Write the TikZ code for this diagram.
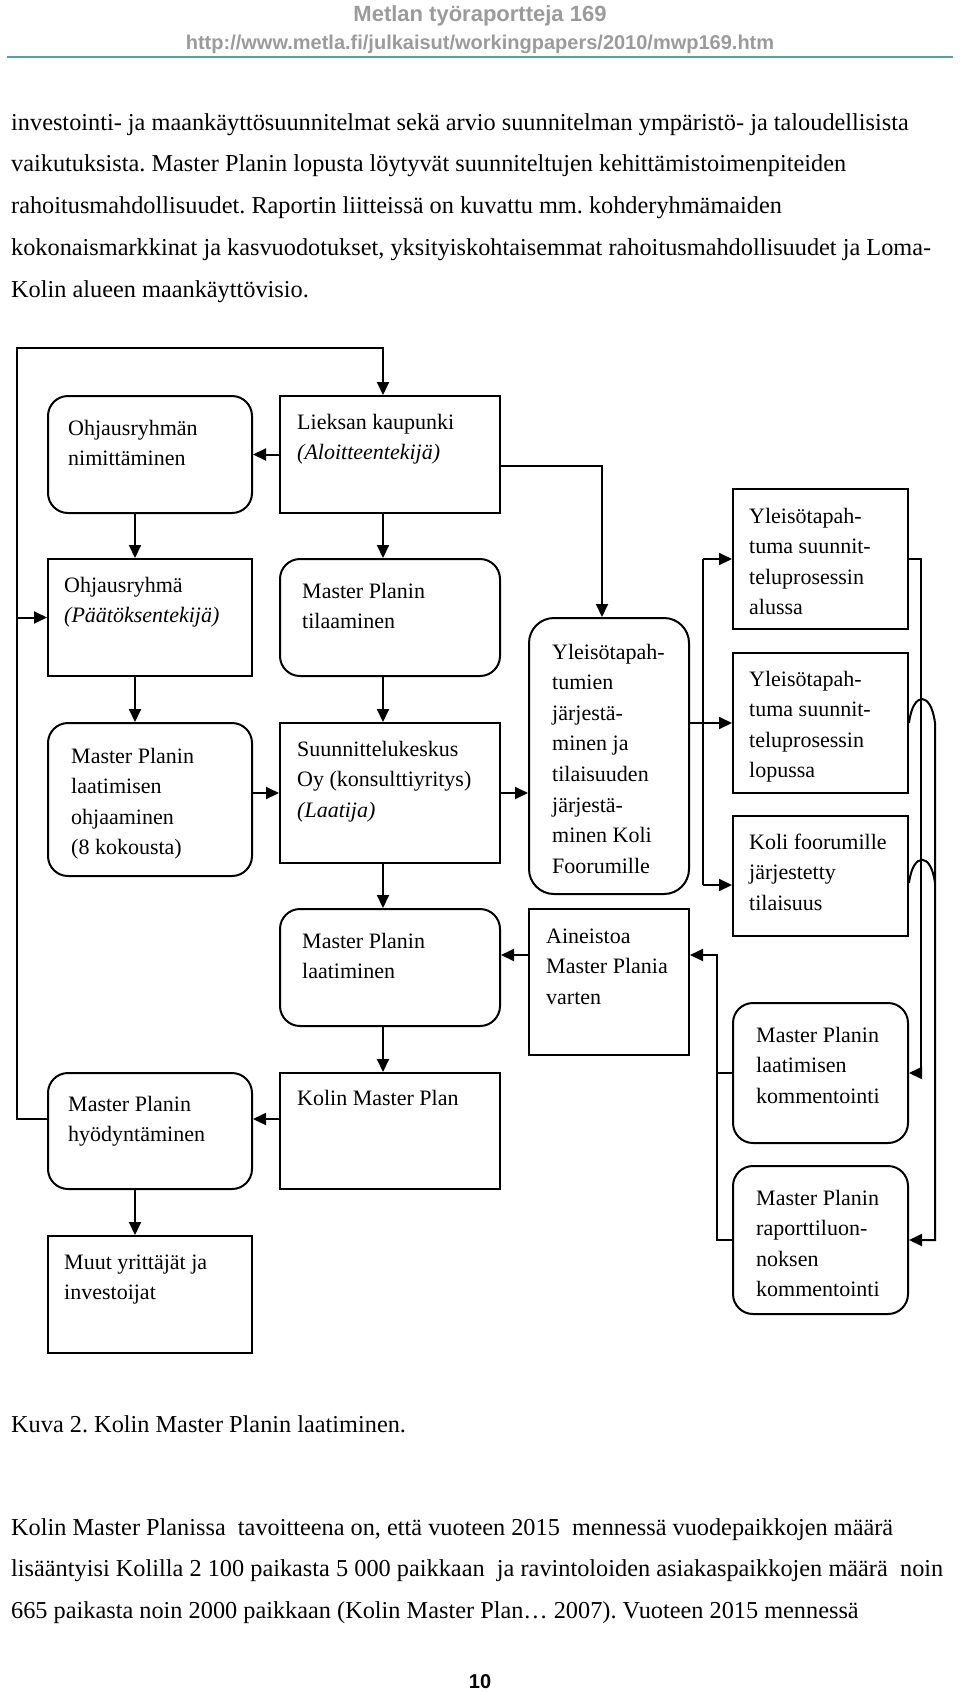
\documentclass[tikz,border=0pt]{standalone}
\usepackage{fontspec}
\setmainfont{Liberation Serif}
\newfontfamily\headfont{Liberation Sans}
\usetikzlibrary{arrows.meta}
\definecolor{headgray}{RGB}{155,155,155}
\definecolor{ruleteal}{RGB}{90,160,160}
\frenchspacing
\def\boxtext(#1)(#2,#3)#4{\node[txt] (#1-t) at ([shift={(#2,#3)}]#1.north west) {\parbox[t]{210pt}{\raggedright #4}};}

\begin{document}
\begin{tikzpicture}[x=1pt,y=-1pt,
	box/.style={draw, line width=2pt, anchor=north west, inner sep=0pt},
	rbox/.style={box, rounded corners=20pt},
	txt/.style={anchor=base west, inner sep=0pt, font=\fontsize{22}{30.6}\selectfont},
	body/.style={anchor=base west, inner sep=0pt, font=\fontsize{24.3}{41.75}\selectfont},
	arr/.style={line width=2pt, -{Triangle[length=13pt,width=12pt]}},
	con/.style={line width=2pt}]
			%%%%% START %%%%%
			
			\fill[white] (0,0) rectangle (960,1692);
			\useasboundingbox (0,0) rectangle (960,1692);
			
			% page head
			\node[anchor=base, inner sep=0pt, text=headgray, font=\headfont\bfseries\fontsize{22}{26}\selectfont] (head) at (480,21) {Metlan työraportteja 169};
			\node[anchor=base, inner sep=0pt, text=headgray, font=\headfont\bfseries\fontsize{20}{24}\selectfont] (url) at (480,49) {http://www.metla.fi/julkaisut/workingpapers/2010/mwp169.htm};
			\draw[ruleteal, line width=2pt] (7,57) -- (953,57);
			
			\node[body] (para1) at (11,130) {\parbox[t]{950pt}{investointi- ja maankäyttösuunnitelmat sekä arvio suunnitelman ympäristö- ja taloudellisista\\
			vaikutuksista. Master Planin lopusta löytyvät suunniteltujen kehittämistoimenpiteiden\\
			rahoitusmahdollisuudet. Raportin liitteissä on kuvattu mm. kohderyhmämaiden\\
			kokonaismarkkinat ja kasvuodotukset, yksityiskohtaisemmat rahoitusmahdollisuudet ja Loma-\\
			Kolin alueen maankäyttövisio.}};
			
			% left column
			\node[rbox, minimum width=204pt, minimum height=117pt] (ohjnim) at (47,395) {};
			\node[box, minimum width=204pt, minimum height=117pt] (ohjryhma) at (47,558) {};
			\node[rbox, minimum width=204pt, minimum height=153pt] (ohjaam) at (47,722) {};
			\node[rbox, minimum width=204pt, minimum height=116pt] (hyod) at (47,1072) {};
			\node[box, minimum width=204pt, minimum height=117pt] (muut) at (47,1235) {};
			
			\boxtext(ohjnim)(21,40){Ohjausryhmän\\nimittäminen}
			\boxtext(ohjryhma)(17,34){Ohjausryhmä\\\textit{(Päätöksentekijä)}}
			\boxtext(ohjaam)(24,41){Master Planin\\laatimisen\\ohjaaminen\\(8 kokousta)}
			\boxtext(hyod)(21,39){Master Planin\\hyödyntäminen}
			\boxtext(muut)(17,34){Muut yrittäjät ja\\investoijat}
			
			% middle column
			\node[box, minimum width=220pt, minimum height=117pt] (lieksa) at (279,395) {};
			\node[rbox, minimum width=220pt, minimum height=117pt] (tilaus) at (279,558) {};
			\node[box, minimum width=220pt, minimum height=140pt] (suunn) at (279,722) {};
			\node[rbox, minimum width=220pt, minimum height=117pt] (laatim) at (279,908) {};
			\node[box, minimum width=220pt, minimum height=116pt] (kolin) at (279,1072) {};
			
			\boxtext(lieksa)(18,34){Lieksan kaupunki\\\textit{(Aloitteentekijä)}}
			\boxtext(tilaus)(23,40){Master Planin\\tilaaminen}
			\boxtext(suunn)(18,34){Suunnittelukeskus\\Oy (konsulttiyritys)\\\textit{(Laatija)}}
			\boxtext(laatim)(23,40){Master Planin\\laatiminen}
			\boxtext(kolin)(18,33){Kolin Master Plan}
			
			% third column
			\node[box, rounded corners=25pt, minimum width=160pt, minimum height=276pt] (yleis) at (528,617) {};
			\node[box, minimum width=160pt, minimum height=146pt] (aineisto) at (528,908) {};
			
			\boxtext(yleis)(24,42){Yleisötapah-\\tumien\\järjestä-\\minen ja\\tilaisuuden\\järjestä-\\minen Koli\\Foorumille}
			\boxtext(aineisto)(18,35){Aineistoa\\Master Plania\\varten}
			
			% right column
			\node[box, minimum width=175pt, minimum height=140pt] (alussa) at (732,488) {};
			\node[box, minimum width=175pt, minimum height=140pt] (lopussa) at (732,652) {};
			\node[box, minimum width=175pt, minimum height=120pt] (foorumi) at (732,815) {};
			\node[rbox, minimum width=175pt, minimum height=140pt] (komm) at (732,1002) {};
			\node[rbox, minimum width=175pt, minimum height=148pt] (rapo) at (732,1165) {};
			
			\boxtext(alussa)(17,35){Yleisötapah-\\tuma suunnit-\\teluprosessin\\alussa}
			\boxtext(lopussa)(17,34){Yleisötapah-\\tuma suunnit-\\teluprosessin\\lopussa}
			\boxtext(foorumi)(17,34){Koli foorumille\\järjestetty\\tilaisuus}
			\boxtext(komm)(24,40){Master Planin\\laatimisen\\kommentointi}
			\boxtext(rapo)(24,40){Master Planin\\raporttiluon-\\noksen\\kommentointi}
			
			% connectors
			\coordinate (lbus) at (17,348);
			\coordinate (ainy) at (0,955);
			\coordinate (vbus) at (703,0);
			\coordinate (fy) at (0,885);
			\coordinate (hy) at (0,883);
			\coordinate (rbusa) at (921,0);
			\coordinate (rbusb) at (935,0);
			\coordinate (lbusb) at (717,0);
			
			\draw[arr] ([yshift=12pt]hyod.west) -| (lbus) -| ([xshift=-7pt]lieksa.north);
			\draw[arr] (lbus |- ohjryhma.west) -- (ohjryhma.west);
			\draw[arr] (lieksa.west) -- (ohjnim.east);
			\draw[arr] ([xshift=-15pt]ohjnim.south) -- ([xshift=-15pt]ohjryhma.north);
			\draw[arr] ([xshift=-15pt]ohjryhma.south) -- ([xshift=-15pt]ohjaam.north);
			\draw[arr] ([xshift=-15pt]hyod.south) -- ([xshift=-15pt]muut.north);
			
			\draw[arr] ([xshift=-7pt]lieksa.south) -- ([xshift=-7pt]tilaus.north);
			\draw[arr] ([xshift=-7pt]tilaus.south) -- ([xshift=-7pt]suunn.north);
			\draw[arr] ([xshift=-7pt]suunn.south) -- ([xshift=-7pt]laatim.north);
			\draw[arr] ([xshift=-7pt]laatim.south) -- ([xshift=-7pt]kolin.north);
			\draw[arr] (suunn.west -| ohjaam.east) -- (suunn.west);
			\draw[arr] ([yshift=12pt]kolin.west) -- ([yshift=12pt]hyod.east);
			
			\draw[arr] ([yshift=-11.5pt]lieksa.east) -| ([xshift=-7pt]yleis.north);
			\draw[arr] (suunn.east) -- (suunn.east -| yleis.west);
			\draw[arr] (aineisto.west |- ainy) -- (laatim.east |- ainy);
			
			\draw[con] (vbus |- alussa.west) -- (vbus |- fy);
			\draw[arr] (vbus |- alussa.west) -- (alussa.west);
			\draw[arr] (yleis.east |- lopussa.west) -- (lopussa.west);
			\draw[arr] (vbus |- fy) -- (foorumi.west |- fy);
			
			\draw[arr] (alussa.east) -| (rbusa |- komm.east) -- (komm.east);
			\draw[arr] (lopussa.east) .. controls +(4,-32) and +(-4,-32) .. (rbusb |- lopussa.east) |- (rapo.east);
			\draw[con] (foorumi.east |- hy) .. controls +(4,-31) and +(-4,-31) .. (rbusb |- hy);
			
			\draw[arr] (rapo.west) -| (lbusb |- ainy) -- (aineisto.east |- ainy);
			\draw[con] (komm.west) -- (lbusb |- komm.west);
			
			% caption and text below
			\node[body] (caption) at (11,1432) {Kuva 2. Kolin Master Planin laatiminen.};
			\node[body] (para2) at (11,1535) {\parbox[t]{950pt}{Kolin Master Planissa\ \ tavoitteena on, että vuoteen 2015\ \ mennessä vuodepaikkojen määrä\\
			\makebox[932pt][s]{lisääntyisi Kolilla 2 100 paikasta 5 000 paikkaan\ \ ja ravintoloiden asiakaspaikkojen määrä\ \ noin}\\
			665 paikasta noin 2000 paikkaan (Kolin Master Plan… 2007). Vuoteen 2015 mennessä}};
			
			\node[anchor=base, inner sep=0pt, font=\headfont\bfseries\fontsize{20}{24}\selectfont] (pagenum) at (480,1688) {10};
			
			%%%%% END %%%%%
		\end{tikzpicture}
\end{document}
